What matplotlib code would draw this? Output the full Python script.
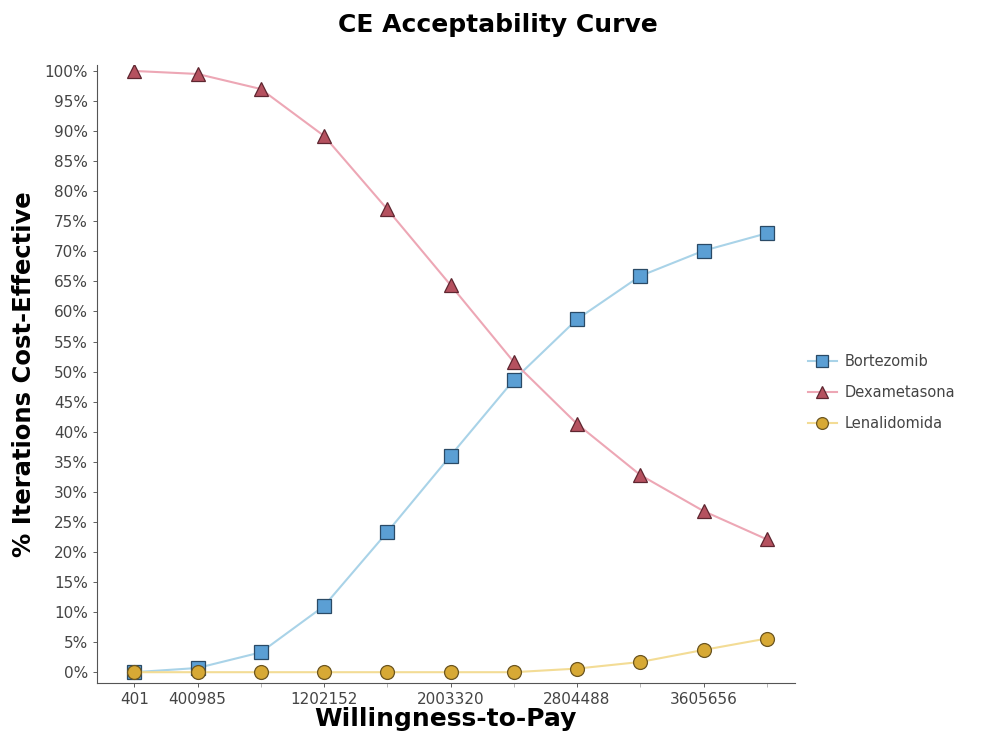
import numpy as np
import matplotlib.pyplot as plt

# willingness-to-pay steps
wtp = [401, 400985, 801569, 1202152, 1602737, 2003320, 2403905,
       2804488, 3205073, 3605656, 4006241]
tick_vals = [401, 400985, 1202152, 2003320, 2804488, 3605656]

bortezomib = [0.0, 0.7, 3.3, 11.0, 23.3, 36.0, 48.6, 58.7, 65.9, 70.1, 73.0]
dexametasona = [100.0, 99.5, 97.0, 89.2, 77.0, 64.4, 51.6, 41.3, 32.8, 26.8, 22.1]
lenalidomida = [0.0, 0.0, 0.0, 0.0, 0.0, 0.0, 0.0, 0.6, 1.7, 3.7, 5.6]

fig = plt.figure(figsize=(9.81, 7.38), dpi=100)
ax = fig.add_axes([0.099, 0.0745, 0.711, 0.8375])

ax.plot(wtp, bortezomib, color='#a9d3e8', lw=1.5, marker='s', ms=10,
        mfc='#5b9fd4', mec='#2a4a66', mew=0.9, label='Bortezomib', zorder=3)
ax.plot(wtp, dexametasona, color='#eda7b5', lw=1.5, marker='^', ms=10,
        mfc='#b5515f', mec='#5e2630', mew=0.9, label='Dexametasona', zorder=3)
ax.plot(wtp, lenalidomida, color='#f3dc95', lw=1.5, marker='o', ms=10,
        mfc='#d7a935', mec='#6b5520', mew=0.9, label='Lenalidomida', zorder=4)

step = wtp[1] - wtp[0]
ax.set_xlim(wtp[0] - 0.587 * step, wtp[-1] + 0.44 * step)
ax.set_ylim(-1.8, 101)
ax.set_xticks(tick_vals)
ax.set_xticklabels([str(v) for v in tick_vals])
ax.set_xticks(wtp, minor=True)
ax.set_yticks(np.arange(0, 101, 5))
ax.set_yticklabels([f'{v}%' for v in range(0, 101, 5)])

for s in ['top', 'right']:
    ax.spines[s].set_visible(False)
for s in ['left', 'bottom']:
    ax.spines[s].set_color('#555555')
ax.tick_params(axis='both', labelsize=11, colors='#444444', length=3, width=0.6)
ax.tick_params(axis='x', which='minor', length=3, width=0.6, color='#aaaaaa')

fig.text(0.508, 0.966, 'CE Acceptability Curve', fontsize=18, fontweight='bold',
         ha='center', va='center')
ax.set_xlabel('Willingness-to-Pay', fontsize=18, fontweight='bold', labelpad=0)
ax.set_ylabel('% Iterations Cost-Effective', fontsize=17.5, fontweight='bold', labelpad=6)

ax.legend(loc='center left', bbox_to_anchor=(1.0, 0.47), frameon=False,
          fontsize=10.5, handlelength=2, labelcolor='#444444', markerscale=0.85,
          labelspacing=1.1, handletextpad=0.5)

plt.savefig('out.png', dpi=100)
